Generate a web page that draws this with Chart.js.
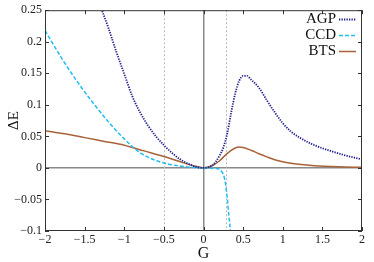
<!DOCTYPE html>
<html>
<head>
<meta charset="utf-8">
<script src="https://cdn.jsdelivr.net/npm/chart.js@4/dist/chart.umd.min.js"></script>
<style>
  html, body { margin: 0; padding: 0; background: #fff; }
  #wrap { width: 374px; height: 262px; }
</style>
</head>
<body>
<div id="wrap"><canvas id="c"></canvas></div>
<script>
// values
const gAgp = [-1.3, -1.2, -1.1, -1.0, -0.9, -0.8, -0.7, -0.6, -0.5, -0.4, -0.3, -0.2, -0.1, 0,
  0.1, 0.15, 0.2, 0.25, 0.3, 0.35, 0.4, 0.45, 0.5, 0.55, 0.6, 0.7, 0.8, 0.9, 1.0, 1.1, 1.2, 1.4, 1.6, 1.8, 2.0];
const agp = [0.256, 0.222, 0.184, 0.149, 0.114, 0.088, 0.067, 0.050, 0.036, 0.024, 0.014, 0.007, 0.002, 0,
  0.003, 0.009, 0.019, 0.032, 0.055, 0.088, 0.118, 0.138, 0.146, 0.146, 0.140, 0.127, 0.107, 0.088, 0.071, 0.058, 0.049, 0.036, 0.027, 0.0195, 0.0135];

const gCcd = [-2, -1.8, -1.6, -1.4, -1.2, -1.1, -1.0, -0.9, -0.8, -0.7, -0.6, -0.5, -0.4, -0.3, -0.2, -0.1, 0,
  0.1, 0.15, 0.2, 0.23, 0.26, 0.28, 0.3, 0.32, 0.34, 0.35];
const ccd = [0.218, 0.176, 0.138, 0.104, 0.073, 0.059, 0.046, 0.034, 0.024, 0.017, 0.0115, 0.0078, 0.005, 0.003, 0.0015, 0.0005, 0,
  -0.0005, -0.001, -0.002, -0.006, -0.014, -0.027, -0.048, -0.076, -0.100, -0.115];

const gBts = [-2, -1.75, -1.5, -1.25, -1.0, -0.75, -0.5, -0.25, -0.1, 0, 0.1, 0.2, 0.3, 0.4, 0.45, 0.5, 0.6, 0.7, 0.8, 0.9,
  1.0, 1.1, 1.2, 1.4, 1.7, 2.0];
const bts = [0.059, 0.054, 0.048, 0.042, 0.036, 0.027, 0.018, 0.008, 0.0025, 0, 0.003, 0.011, 0.023, 0.0315, 0.033, 0.0325, 0.028,
  0.0225, 0.0175, 0.013, 0.0098, 0.0075, 0.0058, 0.0035, 0.0018, 0.001];

const xTicks = [-2, -1.5, -1, -0.5, 0, 0.5, 1, 1.5, 2];
const yTicks = [-0.1, -0.05, 0, 0.05, 0.1, 0.15, 0.2, 0.25];
const markerLines = [-0.5, 0.29];

const SERIF = '"Liberation Serif", "DejaVu Serif", serif';

function pts(xs, ys) {
  return xs.map((x, i) => ({ x: x, y: ys[i] }));
}
function fmt(v) {
  const s = String(Number(v.toFixed(2)));
  return s.replace('-', '\u2212');
}

// frame, inward ticks, dotted markers, legend drawn on top of the chart area
const decor = {
  id: 'decor',
  beforeDatasetsDraw(chart) {
    const { ctx, chartArea: a, scales } = chart;
    ctx.save();
    ctx.strokeStyle = '#bbbbbb';
    ctx.lineWidth = 1;
    ctx.setLineDash([2, 2]);
    markerLines.forEach((v) => {
      const x = Math.round(scales.x.getPixelForValue(v)) + 0.5;
      ctx.beginPath();
      ctx.moveTo(x, a.top);
      ctx.lineTo(x, a.bottom);
      ctx.stroke();
    });
    ctx.restore();
  },
  afterDatasetsDraw(chart) {
    const { ctx, chartArea: a, scales } = chart;
    ctx.save();
    ctx.strokeStyle = '#333';
    ctx.lineWidth = 1;
    ctx.strokeRect(a.left + 0.5, a.top + 0.5, a.right - a.left - 1, a.bottom - a.top - 1);
    const tl = 4;
    ctx.beginPath();
    xTicks.forEach((v) => {
      const x = Math.round(scales.x.getPixelForValue(v)) + 0.5;
      ctx.moveTo(x, a.bottom); ctx.lineTo(x, a.bottom - tl);
      ctx.moveTo(x, a.top); ctx.lineTo(x, a.top + tl);
    });
    yTicks.forEach((v) => {
      const y = Math.round(scales.y.getPixelForValue(v)) + 0.5;
      ctx.moveTo(a.left, y); ctx.lineTo(a.left + tl, y);
      ctx.moveTo(a.right, y); ctx.lineTo(a.right - tl, y);
    });
    ctx.stroke();

    // legend: text right-aligned, sample line to the right
    ctx.font = '15px ' + SERIF;
    ctx.textAlign = 'right';
    ctx.textBaseline = 'middle';
    chart.data.datasets.forEach((ds, i) => {
      const y = 19 + i * 16;
      ctx.fillStyle = '#111';
      ctx.fillText(ds.label, 336, y);
      ctx.strokeStyle = ds.borderColor;
      ctx.lineWidth = ds.borderWidth;
      ctx.setLineDash(ds.borderDash || []);
      ctx.beginPath();
      ctx.moveTo(339, y + 0.5);
      ctx.lineTo(356, y + 0.5);
      ctx.stroke();
    });
    ctx.restore();
  },
};

new Chart(document.getElementById('c'), {
  type: 'line',
  data: {
    datasets: [
      {
        label: 'AGP',
        data: pts(gAgp, agp),
        borderColor: '#1f1f8e',
        borderWidth: 1.8,
        borderDash: [1.3, 1.2],
        pointRadius: 0,
        cubicInterpolationMode: 'monotone',
      },
      {
        label: 'CCD',
        data: pts(gCcd, ccd),
        borderColor: '#22bdf0',
        borderWidth: 1.5,
        borderDash: [4, 2],
        pointRadius: 0,
        cubicInterpolationMode: 'monotone',
      },
      {
        label: 'BTS',
        data: pts(gBts, bts),
        borderColor: '#a8623a',
        borderWidth: 1.5,
        pointRadius: 0,
        cubicInterpolationMode: 'monotone',
      },
    ],
  },
  options: {
    responsive: true,
    maintainAspectRatio: false,
    animation: false,
    layout: { padding: { top: 7, right: 12, left: 0, bottom: 0 } },
    plugins: { legend: { display: false }, tooltip: { enabled: false } },
    scales: {
      x: {
        type: 'linear',
        min: -2,
        max: 2,
        afterFit: (s) => { s.height = 31; },
        afterBuildTicks: (s) => { s.ticks = xTicks.map((v) => ({ value: v })); },
        border: { display: false },
        grid: {
          drawTicks: false,
          lineWidth: 1.5,
          color: (c) => (c.tick && c.tick.value === 0 ? '#8a8a8a' : 'rgba(0,0,0,0)'),
        },
        ticks: {
          padding: 2,
          color: '#222',
          font: { family: SERIF, size: 12 },
          callback: (v) => fmt(v),
        },
        title: {
          display: true,
          text: 'G',
          color: '#111',
          font: { family: SERIF, size: 16 },
          padding: { top: 0, bottom: -1 },
        },
      },
      y: {
        min: -0.1,
        max: 0.25,
        afterFit: (s) => { s.width = 45; },
        afterBuildTicks: (s) => { s.ticks = yTicks.map((v) => ({ value: v })); },
        border: { display: false },
        grid: {
          drawTicks: false,
          lineWidth: 1.5,
          color: (c) => (c.tick && c.tick.value === 0 ? '#8a8a8a' : 'rgba(0,0,0,0)'),
        },
        ticks: {
          padding: 3,
          color: '#222',
          font: { family: SERIF, size: 12 },
          callback: (v) => fmt(v),
        },
        title: {
          display: true,
          text: '\u0394E',
          color: '#111',
          font: { family: SERIF, size: 15 },
          padding: { top: 5, bottom: 0 },
        },
      },
    },
  },
  plugins: [decor],
});
</script>
</body>
</html>
